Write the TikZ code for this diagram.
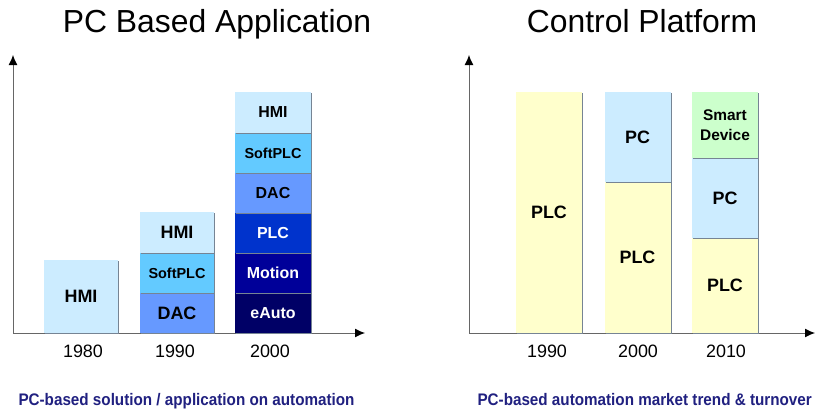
\documentclass[tikz,border=0pt]{standalone}
\usepackage{fontspec}
\setmainfont{Liberation Sans}
\newfontfamily\capfont[FakeStretch=0.91]{Liberation Sans}
\usetikzlibrary{shadows,arrows.meta}
\definecolor{hmiblue}{RGB}{204,236,255}
\definecolor{softblue}{RGB}{99,202,255}
\definecolor{dacblue}{RGB}{102,153,255}
\definecolor{plcblue}{RGB}{0,51,204}
\definecolor{motionblue}{RGB}{0,0,153}
\definecolor{eautoblue}{RGB}{0,0,102}
\definecolor{plcyellow}{RGB}{255,255,204}
\definecolor{smartgreen}{RGB}{204,255,204}
\definecolor{capnavy}{RGB}{32,32,128}
\definecolor{shadowgrey}{RGB}{118,132,148}

\begin{document}
\begin{tikzpicture}[x=1bp,y=-1bp,
  blk/.style={rectangle,inner sep=0pt,minimum width=74bp,minimum height=40bp,align=center,
    drop shadow={shadow xshift=1.2bp,shadow yshift=-1.2bp,fill=shadowgrey,opacity=1},
    font=\fontsize{16}{18}\selectfont\bfseries},
  big/.style={font=\fontsize{18}{20}\selectfont\bfseries},
  small/.style={font=\fontsize{14.5}{16}\selectfont\bfseries},
  axis/.style={draw=gray!80!black,line width=1bp,-{Latex[black,length=10bp,width=9bp]}},
  year/.style={anchor=base,font=\fontsize{18}{20}\selectfont},
  title/.style={anchor=base,font=\fontsize{32}{36}\selectfont},
  caption/.style={anchor=base west,text=capnavy,font=\capfont\fontsize{16.8}{19}\selectfont\bfseries}]
\useasboundingbox (0,0) rectangle (816,413);

% Axes:
\coordinate (lo) at (13,333);
\coordinate (ly) at (13,55);
\coordinate (lx) at (365,333);
\draw[axis] (lo) -- (ly);
\draw[axis] (lo) -- (lx);
\coordinate (ro) at (469,333);
\coordinate (ry) at (469,55);
\coordinate (rx) at (815,333);
\draw[axis] (ro) -- (ry);
\draw[axis] (ro) -- (rx);

% PC based application:
\node[title] (titleL) at (217,32) {PC Based Application};
\node[blk,big,fill=hmiblue,minimum height=73bp] (hmiA) at (81,296.5) {HMI};
\node[blk,big,fill=dacblue] (dacB) at (177,313) {DAC};
\node[blk,small,fill=softblue] (softB) at (177,273) {SoftPLC};
\node[blk,big,fill=hmiblue,minimum height=41bp] (hmiB) at (177,232.5) {HMI};
\node[blk,fill=eautoblue,text=white,minimum width=76bp] (eautoC) at (273,313) {eAuto};
\node[blk,fill=motionblue,text=white,minimum width=76bp] (motionC) at (273,273) {Motion};
\node[blk,fill=plcblue,text=white,minimum width=76bp] (plcC) at (273,233) {PLC};
\node[blk,fill=dacblue,minimum width=76bp] (dacC) at (273,193) {DAC};
\node[blk,small,fill=softblue,minimum width=76bp] (softC) at (273,153) {SoftPLC};
\node[blk,fill=hmiblue,minimum width=76bp,minimum height=41bp] (hmiC) at (273,112.5) {HMI};
\node[year] (yA) at (83,357) {1980};
\node[year] (yB) at (175,357) {1990};
\node[year] (yC) at (270,357) {2000};
\node[caption] (capL) at (15,405) {PC-based solution / application on automation};

% Control platform:
\node[title] (titleR) at (642,32) {Control Platform};
\node[blk,big,fill=plcyellow,minimum width=66bp,minimum height=241bp] (plcD) at (549,212.5) {PLC};
\node[blk,big,fill=plcyellow,minimum width=66bp,minimum height=151bp] (plcE) at (637.5,257.5) {PLC};
\node[blk,big,fill=hmiblue,minimum width=66bp,minimum height=90bp] (pcE) at (637.5,137) {PC};
\node[blk,big,fill=plcyellow,minimum width=66bp,minimum height=95bp] (plcF) at (725,285.5) {PLC};
\node[blk,big,fill=hmiblue,minimum width=66bp,minimum height=80bp] (pcF) at (725,198) {PC};
\node[blk,fill=smartgreen,minimum width=66bp,minimum height=66bp,font=\fontsize{15.5}{19.5}\selectfont\bfseries] (smartF) at (725,125) {Smart\\Device};
\node[year] (yD) at (547,357) {1990};
\node[year] (yE) at (638,357) {2000};
\node[year] (yF) at (726,357) {2010};
\node[caption] (capR) at (474,405) {PC-based automation market trend \& turnover};
\end{tikzpicture}
\end{document}
